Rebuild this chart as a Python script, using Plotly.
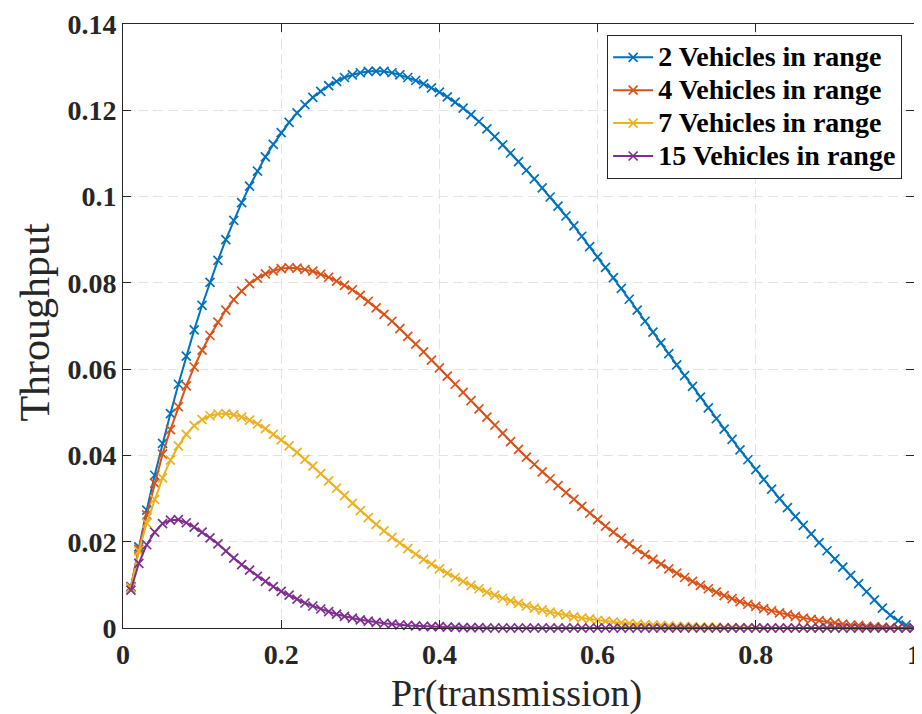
import plotly.graph_objects as go

# transmission probability grid
p = [0.01, 0.02, 0.03, 0.04, 0.05, 0.06, 0.07, 0.08, 0.09, 0.10,
     0.11, 0.12, 0.13, 0.14, 0.15, 0.16, 0.17, 0.18, 0.19, 0.20,
     0.21, 0.22, 0.23, 0.24, 0.25, 0.26, 0.27, 0.28, 0.29, 0.30,
     0.31, 0.32, 0.33, 0.34, 0.35, 0.36, 0.37, 0.38, 0.39, 0.40,
     0.41, 0.42, 0.43, 0.44, 0.45, 0.46, 0.47, 0.48, 0.49, 0.50,
     0.51, 0.52, 0.53, 0.54, 0.55, 0.56, 0.57, 0.58, 0.59, 0.60,
     0.61, 0.62, 0.63, 0.64, 0.65, 0.66, 0.67, 0.68, 0.69, 0.70,
     0.71, 0.72, 0.73, 0.74, 0.75, 0.76, 0.77, 0.78, 0.79, 0.80,
     0.81, 0.82, 0.83, 0.84, 0.85, 0.86, 0.87, 0.88, 0.89, 0.90,
     0.91, 0.92, 0.93, 0.94, 0.95, 0.96, 0.97, 0.98, 0.99, 1.00]

veh2 = [0.0096, 0.0188, 0.0273, 0.0354, 0.0428, 0.0497, 0.0565, 0.0630, 0.0691, 0.0748,
        0.0801, 0.0852, 0.0900, 0.0945, 0.0986, 0.1024, 0.1059, 0.1092, 0.1121, 0.1148,
        0.1172, 0.1194, 0.1213, 0.1230, 0.1244, 0.1257, 0.1267, 0.1276, 0.1282, 0.1287,
        0.1290, 0.1291, 0.1290, 0.1287, 0.1282, 0.1276, 0.1269, 0.1261, 0.1252, 0.1242,
        0.1231, 0.1219, 0.1205, 0.1190, 0.1174, 0.1157, 0.1139, 0.1120, 0.1101, 0.1081,
        0.1061, 0.1041, 0.1020, 0.0999, 0.0978, 0.0955, 0.0932, 0.0908, 0.0884, 0.0860,
        0.0836, 0.0812, 0.0787, 0.0762, 0.0737, 0.0711, 0.0686, 0.0661, 0.0636, 0.0610,
        0.0585, 0.0560, 0.0535, 0.0510, 0.0485, 0.0461, 0.0437, 0.0413, 0.0390, 0.0367,
        0.0344, 0.0322, 0.0300, 0.0279, 0.0258, 0.0238, 0.0218, 0.0198, 0.0179, 0.0160,
        0.0141, 0.0122, 0.0103, 0.0084, 0.0065, 0.0046, 0.0030, 0.0017, 0.0007, 0.0000]

veh4 = [0.0094, 0.0183, 0.0262, 0.0336, 0.0403, 0.0460, 0.0513, 0.0561, 0.0605, 0.0644,
        0.0678, 0.0709, 0.0737, 0.0761, 0.0781, 0.0798, 0.0811, 0.0821, 0.0828, 0.0833,
        0.0835, 0.0834, 0.0831, 0.0827, 0.0820, 0.0813, 0.0804, 0.0794, 0.0784, 0.0771,
        0.0757, 0.0742, 0.0727, 0.0711, 0.0694, 0.0676, 0.0658, 0.0640, 0.0621, 0.0603,
        0.0584, 0.0565, 0.0546, 0.0527, 0.0508, 0.0489, 0.0470, 0.0451, 0.0432, 0.0414,
        0.0396, 0.0379, 0.0362, 0.0346, 0.0330, 0.0314, 0.0298, 0.0282, 0.0266, 0.0251,
        0.0236, 0.0222, 0.0208, 0.0195, 0.0182, 0.0170, 0.0159, 0.0148, 0.0137, 0.0127,
        0.0117, 0.0108, 0.0099, 0.0091, 0.0083, 0.0075, 0.0068, 0.0061, 0.0055, 0.0050,
        0.0045, 0.0040, 0.0035, 0.0031, 0.0027, 0.0023, 0.0020, 0.0017, 0.0014, 0.0012,
        0.0009, 0.0007, 0.0006, 0.0004, 0.0003, 0.0002, 0.0001, 0.0000, 0.0000, 0.0000]

veh7 = [0.0093, 0.0178, 0.0243, 0.0298, 0.0348, 0.0389, 0.0422, 0.0449, 0.0469, 0.0483,
        0.0492, 0.0496, 0.0497, 0.0494, 0.0489, 0.0482, 0.0473, 0.0462, 0.0449, 0.0436,
        0.0422, 0.0407, 0.0391, 0.0375, 0.0358, 0.0341, 0.0324, 0.0307, 0.0289, 0.0272,
        0.0256, 0.0240, 0.0225, 0.0210, 0.0197, 0.0184, 0.0171, 0.0159, 0.0148, 0.0137,
        0.0127, 0.0117, 0.0108, 0.0099, 0.0091, 0.0083, 0.0076, 0.0069, 0.0063, 0.0057,
        0.0051, 0.0046, 0.0042, 0.0037, 0.0033, 0.0030, 0.0026, 0.0023, 0.0021, 0.0018,
        0.0016, 0.0014, 0.0012, 0.0011, 0.0009, 0.0008, 0.0007, 0.0006, 0.0005, 0.0004,
        0.0004, 0.0003, 0.0002, 0.0002, 0.0002, 0.0001, 0.0001, 0.0001, 0.0001, 0.0000,
        0.0000, 0.0000, 0.0000, 0.0000, 0.0000, 0.0000, 0.0000, 0.0000, 0.0000, 0.0000,
        0.0000, 0.0000, 0.0000, 0.0000, 0.0000, 0.0000, 0.0000, 0.0000, 0.0000, 0.0000]

veh15 = [0.0088, 0.0150, 0.0193, 0.0222, 0.0242, 0.0250, 0.0251, 0.0244, 0.0234, 0.0222,
         0.0209, 0.0195, 0.0178, 0.0162, 0.0147, 0.0134, 0.0120, 0.0108, 0.0096, 0.0085,
         0.0076, 0.0067, 0.0058, 0.0051, 0.0044, 0.0038, 0.0032, 0.0027, 0.0023, 0.0019,
         0.0016, 0.0013, 0.0011, 0.0009, 0.0007, 0.0006, 0.0005, 0.0004, 0.0003, 0.0003,
         0.0002, 0.0002, 0.0001, 0.0001, 0.0001, 0.0000, 0.0000, 0.0000, 0.0000, 0.0000,
         0.0000, 0.0000, 0.0000, 0.0000, 0.0000, 0.0000, 0.0000, 0.0000, 0.0000, 0.0000,
         0.0000, 0.0000, 0.0000, 0.0000, 0.0000, 0.0000, 0.0000, 0.0000, 0.0000, 0.0000,
         0.0000, 0.0000, 0.0000, 0.0000, 0.0000, 0.0000, 0.0000, 0.0000, 0.0000, 0.0000,
         0.0000, 0.0000, 0.0000, 0.0000, 0.0000, 0.0000, 0.0000, 0.0000, 0.0000, 0.0000,
         0.0000, 0.0000, 0.0000, 0.0000, 0.0000, 0.0000, 0.0000, 0.0000, 0.0000, 0.0000]

series_names = ["2 Vehicles in range", "4 Vehicles in range",
                "7 Vehicles in range", "15 Vehicles in range"]
series_values = [veh2, veh4, veh7, veh15]
colors = ["#0072BD", "#D95319", "#EDB120", "#7E2F8E"]

x_tickvals = [0, 0.2, 0.4, 0.6, 0.8, 1]
x_ticktext = ["0", "0.2", "0.4", "0.6", "0.8", "1"]
y_tickvals = [0, 0.02, 0.04, 0.06, 0.08, 0.1, 0.12, 0.14]
y_ticktext = ["0", "0.02", "0.04", "0.06", "0.08", "0.1", "0.12", "0.14"]

SERIF = "Liberation Serif, Times New Roman, serif"
AX = "#262626"

fig = go.Figure()
for name, vals, col in zip(series_names, series_values, colors):
    fig.add_trace(go.Scatter(
        x=p, y=vals,
        name='<span style="font-size:28px">' + name + '</span>',
        mode="lines+markers",
        line=dict(color=col, width=2),
        marker=dict(symbol="x-thin", size=9, color=col,
                    line=dict(color=col, width=1.7)),
        cliponaxis=False,
    ))

axis_common = dict(
    showline=True, linecolor=AX, linewidth=1, mirror="ticks",
    ticks="inside", ticklen=8, tickwidth=1, tickcolor=AX,
    showgrid=True, gridcolor="#e3e3e3", gridwidth=1, griddash="10px,5px",
    zeroline=False, automargin=False, ticklabeloverflow="allow",
    tickfont=dict(family=SERIF, size=28, color=AX, weight="bold"),
)

fig.update_xaxes(range=[0, 1], tickvals=x_tickvals, ticktext=x_ticktext,
                 ticklabelstandoff=1, **axis_common)
fig.update_yaxes(range=[0, 0.14], tickvals=y_tickvals, ticktext=y_ticktext,
                 **axis_common)

fig.update_layout(
    width=914, height=706,
    margin=dict(l=115, r=8, t=16, b=86),
    paper_bgcolor="white", plot_bgcolor="white",
    showlegend=True,
    legend=dict(
        x=0.985, y=0.982, xanchor="right", yanchor="top",
        bgcolor="white", bordercolor=AX, borderwidth=1,
        font=dict(family=SERIF, size=23, color="black", weight="bold"),
        tracegroupgap=0, itemwidth=40,
    ),
    annotations=[
        dict(text="Pr(transmission)", xref="paper", yref="paper",
             x=0.498, y=-0.1084, xanchor="center", yanchor="middle",
             showarrow=False, font=dict(family=SERIF, size=38, color=AX)),
        dict(text="Throughput", xref="paper", yref="paper",
             x=-0.111, y=0.506, xanchor="center", yanchor="middle",
             textangle=-90, showarrow=False,
             font=dict(family=SERIF, size=42, color=AX)),
    ],
)

fig.write_html("out.html")
